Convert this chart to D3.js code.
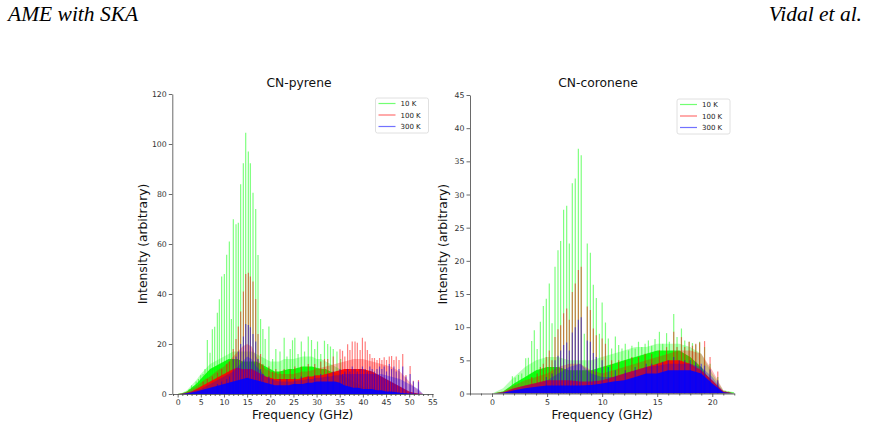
<!DOCTYPE html>
<html><head><meta charset="utf-8">
<script src="https://cdn.jsdelivr.net/npm/d3@7"></script>
<style>body{margin:0;background:#fff}svg{display:block}</style>
</head><body>
<svg id="chart" width="869" height="429"></svg>
<script>
// ---------- CN-pyrene (left) ----------
const pyreneGrid = d3.range(0, 54); // GHz bins 0..53
const pyrene10KDense  = [0,0.3,1,2.5,4,6,8,10,11,12,13,14,14,14,13,13,13,13,12,11,10,9,9,9.5,10,10,10.5,11,11,11,10.5,10,10,9,8.5,8,7,6,5,4,3,2,1.5,1,0.5,0,0,0,0,0,0,0,0,0];
const pyrene10KHaze   = [0,0.5,1.5,3.5,5.5,8,10,12,13,14,15,16,17,17,17,17,17,16,15,14,13,13,13,14,14,14,14.5,15,15,15,14,14,13,12,11,10,9,8,7,6,5,4,3,2,1,0,0,0,0,0,0,0,0,0];
const pyrene100KDense = [0,0.1,0.5,1,2,3,4,5,6,7,8,9,10,10.5,10,10,10,9,8,7,6.5,6,6,6,6,6,6,6.5,7,7,7.5,7.5,8,8.5,9,9.5,10,10,10,10,10,9.5,9,8,7,6,5,4,3,2,1,0.5,0.2,0];
const pyrene100KHaze  = [0,0.3,1,2,3,4.5,6,7,8.5,10,11,13,15,17,19,20,19,15,12,10,9,8.5,8,8,8,8,8.5,9,9,9.5,10,10.5,11,11.5,12,12.5,13,13.5,14,14,14,13.5,13,12.5,12,11.5,11,10,9,7,5,3,1.5,0];
const pyrene300KDense = [0,0.05,0.3,0.6,1,1.5,2,2.5,3,3.5,4,4.5,5,5.5,6,6.5,6,5.5,5,4.5,4,3.5,3.5,3.5,3.5,4,4,4,4.5,4.5,5,5,5,5,5,4.5,3.5,3,2.5,2.5,2,2,2,1.5,1.5,1,1,0.8,0.5,0.3,0.2,0.1,0,0];
const pyrene300KHaze  = [0,0.2,0.5,1,1.5,2,3,4,5,6,7,8,9,11,13,15,14,11,9,7,6,5.5,5,5,5,5,5.5,5.5,6,6,6.5,6.5,7,7,7.5,7.5,8,8,8,8,8,8,8,8,8,7.5,7,6.5,6,5,4,3,2,0];
const pyrene10KLineFreq = [2.5,3.0,3.5,4.0,4.5,5.0,5.5,5.9,6.41,6.98,7.49,7.99,8.57,9.0,9.5,10.08,10.58,11.16,11.6,12.02,12.6,13.1,13.6,14.18,14.69,15.26,15.7,16.27,16.85,17.35,17.9,18.4,18.9,19.7,20.5,21.2,22.1,23.0,23.6,24.3,24.8,25.3,26.0,26.7,27.4,28.2,28.9,29.6,30.2,30.9,31.7,32.4,33.0,33.6,34.4,35.2];
const pyrene10KLineInt  = [2,3.5,3,5,6,7.5,8,10,21.6,16.5,25.9,26.9,32.5,37.9,47,48,55.7,61,30,69.9,67.9,68.5,83.9,92.3,104.5,97,92.3,80.5,74,55.6,30,26,22,27,14,18,17,22.5,15,18,21.5,22.5,16,21,17,23,21.6,18,21,16,21.3,20,19,18,17,14];
const pyrene100KLineFreq = [5.5,6.4,7.5,8.6,9.5,10.6,11.2,12.0,12.6,13.1,13.6,14.2,14.7,15.26,15.7,16.27,16.85,17.35,17.9,18.4,19.7,20.5,21.2,22.1,23.0,24.3,25.3,26.7,28.2,29.6,30.9,31.7,32.4,33.6,35.06,35.6,36.1,36.7,37.2,37.7,38.3,38.8,39.4,39.9,40.5,40.96,41.5,42.0,42.5,43.05,43.6,44.1,44.6,45.1,45.7,46.2,46.7,47.2,47.8,48.6,49.3,50.2,50.9,52.0];
const pyrene100KLineInt  = [5,6,7,8.5,10,12,13,18,22,27,33,41,48,48.5,47,45,38,24,16,12,11,9,10,9,10,10,11,11,12,12,13,14,14,15,17.9,17.3,15,19.9,17.6,21,21,20.5,17.6,22.5,21,17.6,16,14.4,14.4,13.6,14.4,13.6,14.7,13.6,15,15.2,13.6,15,13.6,16,7.6,11.2,5.3,5.6];
const pyrene300KLineFreq = [8.6,9.5,10.6,11.2,12.0,12.6,13.1,13.6,14.2,14.7,15.26,15.7,16.27,16.85,17.35,17.9,18.4,19.7,20.5,22.1,23.6,25.3,26.7,28.2,29.6,30.9,32.4,33.6,35.06,35.6,36.1,36.7,37.2,37.7,38.3,38.8,39.4,39.9,40.5,40.96,41.5,42.0,42.5,43.05,43.6,44.1,44.6,45.1,45.7,46.2,46.7,47.2,47.8,48.6,49.3,50.2,50.9,52.0];
const pyrene300KLineInt  = [4,5,6,7,14,15,17,20,23,28,27.6,26.7,24,21,14,10,8,7,6,6,6,6.5,7,7,7.5,8,8,9,10,8,9,10,9,11,10,9,10,11,10,9,11,10,9,10,11,10,11,9,12,10,11,9,10,11,7,8,5,5];

// ---------- CN-coronene (right) ----------
const coroneneGrid = d3.range(0, 23); // GHz bins 0..22
const coronene10KDense  = [0,0.3,1.5,2.5,3.5,4,4,3.5,3.5,3.5,4,4.5,5,5.5,6,6.5,6.5,6.5,5.5,4,1.5,0.3,0.1];
const coronene10KHaze   = [0,0.8,2.5,4,5,5.5,5.5,5,5,5,5.5,6,6.5,7,7,7.5,7.5,7.5,7,6,3,0.5,0.2];
const coronene100KDense = [0,0.2,0.8,1.2,1.6,2,2,2,1.8,1.8,2,2.5,3,3.5,4,4.5,5,5,4.5,3.5,2,0.3,0];
const coronene100KHaze  = [0,0.3,1.2,2,2.5,3,4,4.5,4.5,3.5,3,3.5,4,4.5,5,5.5,6,6.5,6.5,6,3.5,0.5,0];
const coronene300KDense = [0,0.1,0.5,0.8,1,1.2,1.2,1.2,1.2,1.3,1.5,1.8,2,2.5,3,3,3.5,3.5,3.5,3,1.5,0.2,0];
const coronene300KHaze  = [0,0.2,0.8,1.2,1.6,2,3,4,4.5,3,2.5,2.5,3,3.5,4,4.2,4.5,4.5,4.5,4,2.5,0.3,0];
const coronene10KLineFreq = [1.85,2.1,2.4,2.7,3.06,3.3,3.6,3.84,4.1,4.39,4.66,4.93,5.2,5.45,5.72,5.99,6.23,6.5,6.78,7.02,7.29,7.56,7.84,8.1,8.38,8.65,8.93,9.2,9.47,9.75,10.0,10.3,10.56,10.86,11.2,11.5,11.8,12.1,12.4,12.7,13.0,13.3,13.6,13.9,14.2,14.5,14.8,15.2,15.5,15.85,16.1,16.5,16.8,17.2,17.5,17.9,18.2,18.5,18.85,19.3,19.8,20.5,20.9,21.2,21.5];
const coronene10KLineInt  = [2.6,2.4,2.8,3,5.3,5.4,7.9,9.55,6.7,10.8,13.2,14.3,16.6,10.6,19.1,21.6,23.0,27.7,28.3,22.6,31.7,32.4,36.9,35.9,9,22.6,21.2,16.4,14.4,9,13.7,10.7,8.3,6.8,8.6,7.3,6.8,7.5,6.5,7.2,6.8,7.8,7.0,7.5,8.0,7.2,8.2,9.3,7.5,9.1,7.8,12.0,8.5,9.8,8.0,7.8,7.6,7.4,7.8,7.0,4.5,2.5,0.5,0.4,0.3];
const coronene100KLineFreq = [3.6,4.1,4.39,4.66,4.93,5.2,5.45,5.72,5.99,6.23,6.5,6.78,7.02,7.29,7.56,7.84,8.1,8.65,8.93,9.2,9.47,10.0,10.3,10.86,11.5,12.1,12.7,13.3,13.9,14.5,15.2,15.85,16.5,16.8,17.2,17.5,17.9,18.2,18.5,18.85,19.3,19.8,20.5];
const coronene100KLineInt  = [2.5,3,4,4.5,5.5,6.5,5,8.5,9.7,10.3,12.1,12.8,11.1,15.3,16.6,18.6,19.1,13.1,12.6,9.8,8.8,8.3,7.5,5,5,5,5.5,5.5,6,6,6.5,7,9.3,7,8.5,7,7.8,7.2,7.5,7.7,7.9,5.5,3.3];
const coronene300KLineFreq = [4.93,5.45,5.72,5.99,6.23,6.5,6.78,7.02,7.29,7.56,7.84,8.1,8.65,8.93,9.2,9.47,10.0,10.56,11.2,12.1,13.0,14.0,14.5,15.0,15.5,16.0,16.5,17.0,17.5,18.0,18.5,19.0,19.3,19.8,20.5];
const coronene300KLineInt  = [2.5,3,5,5.7,6.5,7.3,7.7,6.5,9.2,10,11.1,11.5,8,7.8,6.1,5.5,5,4,3.5,3.5,4,4.5,4.5,4.5,4.8,5,5.5,5,5,5,4.8,4.5,4.2,3.6,2];

// ---------- shared ----------
const seriesNames = ["10 K", "100 K", "300 K"];
const seriesColors = ["#00ff00", "#ff0000", "#0000ff"];
const pyreneXTicks = d3.range(0, 56, 5);
const pyreneYTicks = d3.range(0, 121, 20);
const coroneneXTicks = d3.range(0, 21, 5);
const coroneneYTicks = d3.range(0, 46, 5);

const svg = d3.select("#chart");
const FONT = "DejaVu Sans, sans-serif";

// page header
svg.append("text").attr("x", 8).attr("y", 21)
  .style("font-family", "Liberation Serif, serif").style("font-style", "italic")
  .style("font-size", "21.5px").text("AME with SKA");
svg.append("text").attr("x", 862).attr("y", 21).attr("text-anchor", "end")
  .style("font-family", "Liberation Serif, serif").style("font-style", "italic")
  .style("font-size", "21.5px").text("Vidal et al.");

function panel(cfg) {
  const x = d3.scaleLinear().domain(cfg.xDomain).range(cfg.xRange);
  const y = d3.scaleLinear().domain(cfg.yDomain).range(cfg.yRange);
  const g = svg.append("g");
  const clipId = "clip-" + cfg.id;
  svg.append("defs").append("clipPath").attr("id", clipId)
    .append("rect").attr("x", cfg.xRange[0]).attr("y", cfg.yRange[1])
    .attr("width", cfg.xRange[1] - cfg.xRange[0]).attr("height", cfg.yRange[0] - cfg.yRange[1]);
  const plot = g.append("g").attr("clip-path", `url(#${clipId})`);

  const area = d3.area().x((d, i) => x(cfg.grid[i])).y0(y(0)).y1(d => y(d)).curve(d3.curveLinear);

  cfg.series.forEach((s, k) => {
    const col = seriesColors[k];
    plot.append("path").datum(s.haze).attr("d", area).attr("fill", col).attr("opacity", 0.28);
    plot.append("path").datum(s.dense).attr("d", area).attr("fill", col).attr("opacity", 0.9);
    plot.append("g").selectAll("line").data(s.freq).join("line")
      .attr("x1", d => x(d)).attr("x2", d => x(d))
      .attr("y1", y(0)).attr("y2", (d, i) => y(s.int[i]))
      .attr("stroke", col).attr("stroke-width", 1.2).attr("opacity", 0.5);
  });

  // axes
  g.append("g").attr("transform", `translate(0,${cfg.yRange[0]})`)
    .call(d3.axisBottom(x).tickValues(cfg.xTicks).tickSize(3.5).tickSizeOuter(0).tickPadding(2));
  const minor = d3.range(Math.ceil(cfg.xDomain[0]), Math.floor(cfg.xDomain[1]) + 1).filter(v => v % 5 !== 0);
  g.append("g").attr("transform", `translate(0,${cfg.yRange[0]})`)
    .call(d3.axisBottom(x).tickValues(minor).tickSize(2).tickSizeOuter(0).tickFormat(""))
    .call(a => a.select(".domain").remove());
  g.append("g").attr("transform", `translate(${cfg.xRange[0]},0)`)
    .call(d3.axisLeft(y).tickValues(cfg.yTicks).tickSize(3.5).tickSizeOuter(0).tickPadding(2));
  g.selectAll(".domain").attr("stroke", "#444").attr("stroke-width", 0.8);
  g.selectAll(".tick line").attr("stroke", "#444").attr("stroke-width", 0.8);
  g.selectAll(".tick text").style("font-family", FONT).style("font-size", "7.8px").attr("fill", "#333");

  // labels
  g.append("text").attr("x", cfg.titleX).attr("y", 87).attr("text-anchor", "middle")
    .style("font-family", FONT).style("font-size", "12.3px").attr("fill", "#111").text(cfg.title);
  g.append("text").attr("x", (cfg.xRange[0] + cfg.xRange[1]) / 2).attr("y", 419).attr("text-anchor", "middle")
    .style("font-family", FONT).style("font-size", "12.2px").attr("fill", "#111").text("Frequency (GHz)");
  g.append("text").attr("transform", `translate(${cfg.yLabelX},${(cfg.yRange[0] + cfg.yRange[1]) / 2}) rotate(-90)`)
    .attr("text-anchor", "middle")
    .style("font-family", FONT).style("font-size", "12.3px").attr("fill", "#111").text("Intensity (arbitrary)");

  // legend
  const lg = g.append("g").attr("transform", `translate(${cfg.legend[0]},${cfg.legend[1]})`);
  lg.append("rect").attr("x", 0).attr("y", 0).attr("width", 53).attr("height", 35).attr("rx", 2)
    .attr("fill", "#fff").attr("stroke", "#d8d8d8").attr("stroke-width", 0.8);
  seriesNames.forEach((n, k) => {
    const yy = 5.5 + k * 11.5;
    lg.append("line").attr("x1", 3).attr("x2", 20).attr("y1", yy).attr("y2", yy)
      .attr("stroke", seriesColors[k]).attr("stroke-width", 1.2).attr("opacity", 0.55);
    lg.append("text").attr("x", 25).attr("y", yy + 2.5)
      .style("font-family", FONT).style("font-size", "7px").attr("fill", "#222").text(n);
  });
}

panel({
  id: "pyrene", title: "CN-pyrene", titleX: 299, yLabelX: 147,
  xDomain: [-1.16, 55.14], xRange: [172.3, 433], yDomain: [0, 120], yRange: [394, 94],
  xTicks: pyreneXTicks, yTicks: pyreneYTicks, grid: pyreneGrid, legend: [375.5, 98],
  series: [
    {dense: pyrene10KDense, haze: pyrene10KHaze, freq: pyrene10KLineFreq, int: pyrene10KLineInt},
    {dense: pyrene100KDense, haze: pyrene100KHaze, freq: pyrene100KLineFreq, int: pyrene100KLineInt},
    {dense: pyrene300KDense, haze: pyrene300KHaze, freq: pyrene300KLineFreq, int: pyrene300KLineInt}
  ]
});
panel({
  id: "coronene", title: "CN-coronene", titleX: 598, yLabelX: 447,
  xDomain: [-2, 22], xRange: [470, 734.3], yDomain: [0, 45], yRange: [393.5, 95],
  xTicks: coroneneXTicks, yTicks: coroneneYTicks, grid: coroneneGrid, legend: [677, 99],
  series: [
    {dense: coronene10KDense, haze: coronene10KHaze, freq: coronene10KLineFreq, int: coronene10KLineInt},
    {dense: coronene100KDense, haze: coronene100KHaze, freq: coronene100KLineFreq, int: coronene100KLineInt},
    {dense: coronene300KDense, haze: coronene300KHaze, freq: coronene300KLineFreq, int: coronene300KLineInt}
  ]
});
</script>
</body></html>
